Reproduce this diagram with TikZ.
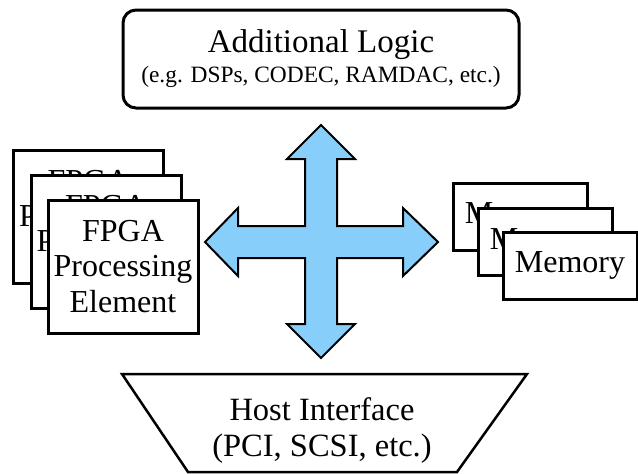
\documentclass[tikz,border=0pt]{standalone}
\usepackage{fontspec}
\setmainfont{Liberation Serif}
\definecolor{crossblue}{RGB}{135,206,250}
\tikzset{
  pebox/.style={draw, line width=3pt, fill=white, minimum width=150pt, minimum height=133pt,
    align=center, inner sep=0pt, font=\fontsize{32}{35.5}\selectfont},
  membox/.style={draw, line width=3pt, fill=white, minimum width=134pt, minimum height=67pt,
    inner sep=0pt, font=\fontsize{32}{38}\selectfont},
  bigtext/.style={anchor=base, inner sep=0pt, font=\fontsize{33}{38}\selectfont},
  smalltext/.style={anchor=base, inner sep=0pt, font=\fontsize{23.4}{27}\selectfont},
  hosttext/.style={anchor=base, inner sep=0pt, font=\fontsize{32.5}{36}\selectfont},
  crossarrow/.style={fill=crossblue, draw=black, line width=2pt, line join=miter}
}
\begin{document}
\begin{tikzpicture}[x=1pt,y=-1pt]
\useasboundingbox (0,0) rectangle (638,474);
% top box
\node[draw, line width=3pt, rounded corners=13pt, minimum width=396pt, minimum height=98pt, inner sep=0pt] (logic) at (321,59) {};
\node[bigtext] (logict) at (321,52) {Additional Logic};
\node[smalltext] (logics) at (321,82) {(e.g. DSPs, CODEC, RAMDAC, etc.)};
% FPGA stack
\node[pebox] (pe1) at (88.5,216.5) {FPGA\\Processing\\Element};
\node[pebox] (pe2) at (106,241.5) {FPGA\\Processing\\Element};
\node[pebox] (pe3) at (123,266.5) {FPGA\\Processing\\Element};
% Memory stack
\node[membox] (m1) at (520,216.5) {Memory};
\node[membox] (m2) at (545,242) {Memory};
\node[membox] (m3) at (570,265.5) {Memory};
% four-way arrow
\draw[crossarrow] (321,125) -- (355,159) -- (337,159) -- (337,226) -- (403,226) -- (403,208)
  -- (438,242) -- (403,276) -- (403,258) -- (337,258) -- (337,324) -- (355,324) -- (321,358)
  -- (287,324) -- (305,324) -- (305,258) -- (238,258) -- (238,276) -- (205,242) -- (238,208)
  -- (238,226) -- (305,226) -- (305,159) -- (287,159) -- cycle;
% host interface
\draw[line width=2.5pt, line join=miter] (122,374) -- (527,374) -- (457,472) -- (188,472) -- cycle;
\node[hosttext] (host1) at (322,420) {Host Interface};
\node[hosttext] (host2) at (322,456) {(PCI, SCSI, etc.)};
\end{tikzpicture}
\end{document}
